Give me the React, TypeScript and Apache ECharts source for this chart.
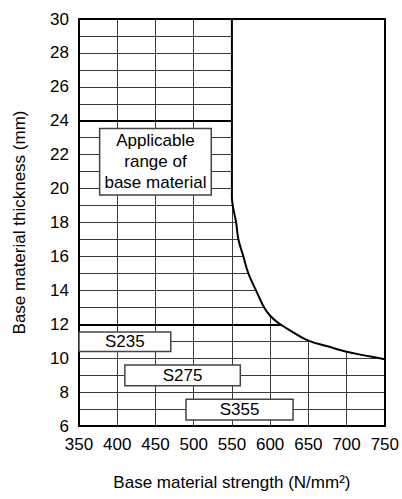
import React, { useEffect, useRef } from "react";
import * as echarts from "echarts";

const xTicks = [350, 400, 450, 500, 550, 600, 650, 700, 750];
const yRange = [6, 30];
// boundary curve: strength (N/mm²), thickness (mm)
const curveX = [550, 550, 551.5, 555.5, 558.5, 565, 571.5, 581.5, 592, 600, 610, 629, 650, 675, 700, 725, 750];
const curveY = [30, 19.5, 18.9, 18, 17, 16, 15, 14, 13, 12.5, 12.1, 11.55, 11.03, 10.7, 10.38, 10.15, 9.93];
// grade boxes
const gradeNames = ["S235", "S275", "S355"];
const gradeX = [[350, 470], [410, 561], [490, 630]];
const gradeY = [[10.4, 11.55], [8.38, 9.6], [6.36, 7.58]];
const rangeLabel = "Applicable\nrange of\nbase material";
const rangeBoxX = [377, 523];
const rangeBoxY = [19.62, 23.55];
const majorY = [12, 24];

const FONT = '"Liberation Sans", Arial, sans-serif';
const FS = 17;

export default function App() {
  const ref = useRef<HTMLDivElement>(null);
  useEffect(() => {
    if (!ref.current) return;
    const chart = echarts.init(ref.current, undefined, { renderer: "svg" });
    const boxStyle = { color: "#fff", borderColor: "#444", borderWidth: 1.5 };
    const boxLabel = { show: true, position: "inside", color: "#000", fontSize: FS, fontFamily: FONT };
    chart.setOption({
      animation: false,
      textStyle: { fontFamily: FONT },
      grid: { left: 79, right: 16, top: 19, bottom: 73 },
      xAxis: [
        {
          type: "value",
          min: xTicks[0],
          max: xTicks[xTicks.length - 1],
          interval: 50,
          name: "Base material strength (N/mm²)",
          nameLocation: "middle",
          nameGap: 48,
          nameTextStyle: { color: "#000", fontSize: FS, fontFamily: FONT },
          axisLine: { show: true, lineStyle: { color: "#000", width: 2 } },
          axisTick: { show: false },
          axisLabel: { color: "#000", fontSize: FS, margin: 10, fontFamily: FONT },
          splitLine: { show: true, lineStyle: { color: "#3a3a3a", width: 1 } },
        },
        {
          type: "value",
          position: "top",
          min: xTicks[0],
          max: xTicks[xTicks.length - 1],
          z: 10,
          axisLine: { show: true, onZero: false, lineStyle: { color: "#000", width: 2 } },
          axisTick: { show: false },
          axisLabel: { show: false },
          splitLine: { show: false },
        },
      ],
      yAxis: [
        {
          type: "value",
          min: yRange[0],
          max: yRange[1],
          interval: 1,
          name: "Base material thickness (mm)",
          nameLocation: "middle",
          nameGap: 51,
          nameTextStyle: { color: "#000", fontSize: FS, fontFamily: FONT },
          axisLine: { show: true, lineStyle: { color: "#000", width: 2 } },
          axisTick: { show: false },
          axisLabel: {
            color: "#000",
            fontSize: FS,
            margin: 10,
            fontFamily: FONT,
            formatter: (v: number) => (v % 2 === 0 ? String(v) : ""),
          },
          splitLine: { show: true, lineStyle: { color: "#3a3a3a", width: 1 } },
        },
        {
          type: "value",
          position: "right",
          min: yRange[0],
          max: yRange[1],
          z: 10,
          axisLine: { show: true, onZero: false, lineStyle: { color: "#000", width: 2 } },
          axisTick: { show: false },
          axisLabel: { show: false },
          splitLine: { show: false },
        },
      ],
      series: [
        {
          type: "line",
          data: [],
          z: 1,
          silent: true,
          markLine: {
            z: 1,
            symbol: "none",
            silent: true,
            label: { show: false },
            lineStyle: { color: "#000", width: 1.8, type: "solid" },
            data: majorY.map((y) => ({ yAxis: y })),
          },
        },
        {
          type: "line",
          data: curveX.map((x, i) => [x, curveY[i]]),
          symbol: "none",
          smooth: 0.4,
          z: 3,
          lineStyle: { color: "#000", width: 2 },
          areaStyle: { color: "#fff", opacity: 1, origin: "end" },
        },
        {
          type: "line",
          data: [],
          z: 5,
          markArea: {
            z: 6,
            silent: true,
            itemStyle: boxStyle,
            label: boxLabel,
            data: [
              ...gradeNames.map((n, i) => [
                { name: n, coord: [gradeX[i][0], gradeY[i][0]] },
                { coord: [gradeX[i][1], gradeY[i][1]] },
              ]),
              [
                {
                  name: rangeLabel,
                  coord: [rangeBoxX[0], rangeBoxY[0]],
                  label: { lineHeight: 21 },
                },
                { coord: [rangeBoxX[1], rangeBoxY[1]] },
              ],
            ],
          },
        },
      ],
    });
    return () => chart.dispose();
  }, []);
  return <div ref={ref} style={{ position: "absolute", left: 0, top: 0, width: 402, height: 499 }} />;
}
